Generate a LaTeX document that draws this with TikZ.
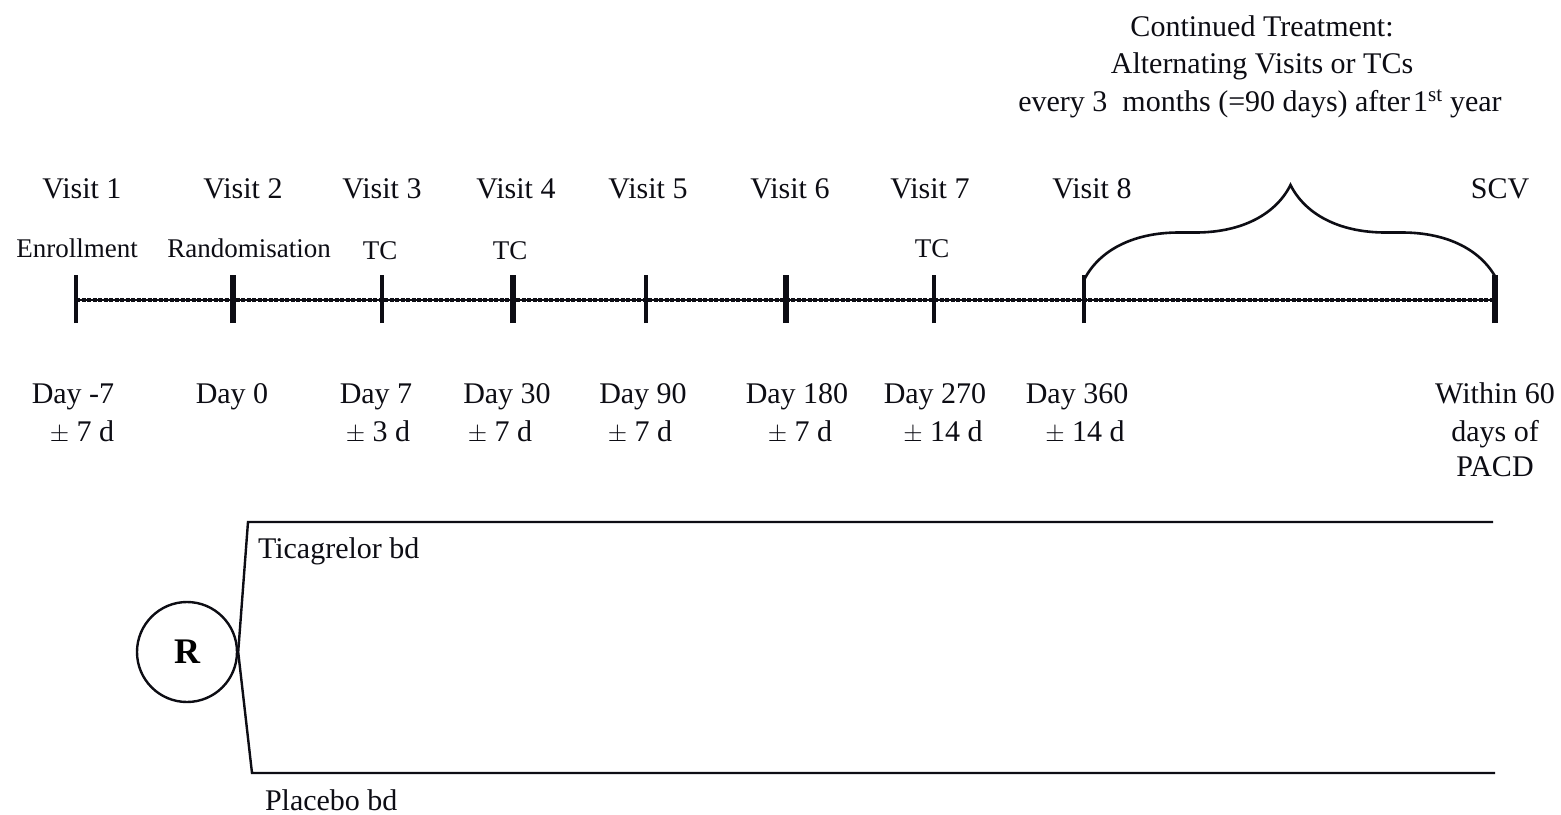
\documentclass[tikz,border=0pt]{standalone}
\usepackage{fontspec}
\setmainfont{Liberation Serif}
\usetikzlibrary{decorations.pathreplacing}

\tikzset{
  lbl/.style={text=drawColor,anchor=base,inner sep=0pt,outer sep=0pt,font=\fontsize{30}{36}\selectfont},
  smalllbl/.style={lbl,font=\fontsize{27}{32}\selectfont},
  tick/.style={draw=drawColor,line width=4pt},
  thicktick/.style={draw=drawColor,line width=5.5pt},
  arm/.style={draw=drawColor,line width=2.4pt,line join=miter}
}

\begin{document}
\begin{tikzpicture}[x=1pt,y=-1pt]
\definecolor[named]{drawColor}{rgb}{0.05,0.05,0.08}
\path[use as bounding box,fill=white] (0,0) rectangle (1561,814);

% heading over the brace
\node[lbl] (head1) at (1262, 36) {Continued Treatment:};
\node[lbl] (head2) at (1262, 73) {Alternating Visits or TCs};
\node[lbl] (head3) at (1260,111) {every 3\ \ months (=90 days) after\kern0.1em 1\textsuperscript{st} year};

% visits
\node[lbl] (v1) at (  82,198) {Visit 1};
\node[lbl] (v2) at ( 243,198) {Visit 2};
\node[lbl] (v3) at ( 382,198) {Visit 3};
\node[lbl] (v4) at ( 516,198) {Visit 4};
\node[lbl] (v5) at ( 648,198) {Visit 5};
\node[lbl] (v6) at ( 790,198) {Visit 6};
\node[lbl] (v7) at ( 930,198) {Visit 7};
\node[lbl] (v8) at (1092,198) {Visit 8};
\node[lbl] (scv) at (1500,198) {SCV};

\node[smalllbl] (enr) at (  77,257) {Enrollment};
\node[smalllbl] (rnd) at ( 249,257) {Randomisation};
\node[smalllbl] (tc3) at ( 380,259) {TC};
\node[smalllbl] (tc4) at ( 510,259) {TC};
\node[smalllbl] (tc7) at ( 932,257) {TC};

% time line
\coordinate (t1) at (  76,300);
\coordinate (t2) at ( 233,300);
\coordinate (t3) at ( 382,300);
\coordinate (t4) at ( 513,300);
\coordinate (t5) at ( 646,300);
\coordinate (t6) at ( 786,300);
\coordinate (t7) at ( 934,300);
\coordinate (t8) at (1084,300);
\coordinate (t9) at (1495,300);

\draw[drawColor,line width=1.6pt] (t1) -- (t9);
\draw[drawColor,line width=3.6pt,dash pattern=on 4pt off 1.5pt] (t1) -- (t9);

\draw[tick] ([yshift=-23pt]t1) -- ([yshift=25pt]t1);
\draw[thicktick] ([yshift=-23pt]t2) -- ([yshift=25pt]t2);
\draw[tick] ([yshift=-23pt]t3) -- ([yshift=25pt]t3);
\draw[thicktick] ([yshift=-23pt]t4) -- ([yshift=25pt]t4);
\draw[tick] ([yshift=-23pt]t5) -- ([yshift=25pt]t5);
\draw[thicktick] ([yshift=-23pt]t6) -- ([yshift=25pt]t6);
\draw[tick] ([yshift=-23pt]t7) -- ([yshift=25pt]t7);
\draw[tick] ([yshift=-23pt]t8) -- ([yshift=25pt]t8);
\draw[thicktick] ([yshift=-23pt]t9) -- ([yshift=25pt]t9);

% brace over continued treatment
\coordinate (brL) at (1084,280);
\coordinate (brR) at (1497,280);
\draw[drawColor,line width=2.6pt,decorate,decoration={brace,amplitude=95pt}] (brL) -- (brR);

% days
\node[lbl] (d1a) at (  73,403) {Day -7};
\node[lbl] (d1b) at (  82,441) {$\pm$ 7 d};
\node[lbl] (d2a) at ( 232,403) {Day 0};
\node[lbl] (d3a) at ( 376,403) {Day 7};
\node[lbl] (d3b) at ( 378,441) {$\pm$ 3 d};
\node[lbl] (d4a) at ( 507,403) {Day 30};
\node[lbl] (d4b) at ( 500,441) {$\pm$ 7 d};
\node[lbl] (d5a) at ( 643,403) {Day 90};
\node[lbl] (d5b) at ( 640,441) {$\pm$ 7 d};
\node[lbl] (d6a) at ( 797,403) {Day 180};
\node[lbl] (d6b) at ( 800,441) {$\pm$ 7 d};
\node[lbl] (d7a) at ( 935,403) {Day 270};
\node[lbl] (d7b) at ( 943,441) {$\pm$ 14 d};
\node[lbl] (d8a) at (1077,403) {Day 360};
\node[lbl] (d8b) at (1085,441) {$\pm$ 14 d};
\node[lbl] (d9a) at (1495,403) {Within 60};
\node[lbl] (d9b) at (1495,441) {days of};
\node[lbl] (d9c) at (1495,476) {PACD};

% randomisation
\node[draw=drawColor,circle,line width=2.4pt,minimum size=100pt,inner sep=0pt,
  font=\fontsize{36}{40}\selectfont\bfseries] (R) at (187,652) {R};
\coordinate (ticaBend) at ( 248,522);
\coordinate (ticaEnd)  at (1493,522);
\coordinate (placBend) at ( 252,773);
\coordinate (placEnd)  at (1495,773);
\draw[arm] (R.east) -- (ticaBend) -- (ticaEnd);
\draw[arm] (R.east) -- (placBend) -- (placEnd);
\node[lbl,anchor=base west] (tica) at (258,558) {Ticagrelor bd};
\node[lbl,anchor=base west] (plac) at (265,810) {Placebo bd};
\end{tikzpicture}
\end{document}
